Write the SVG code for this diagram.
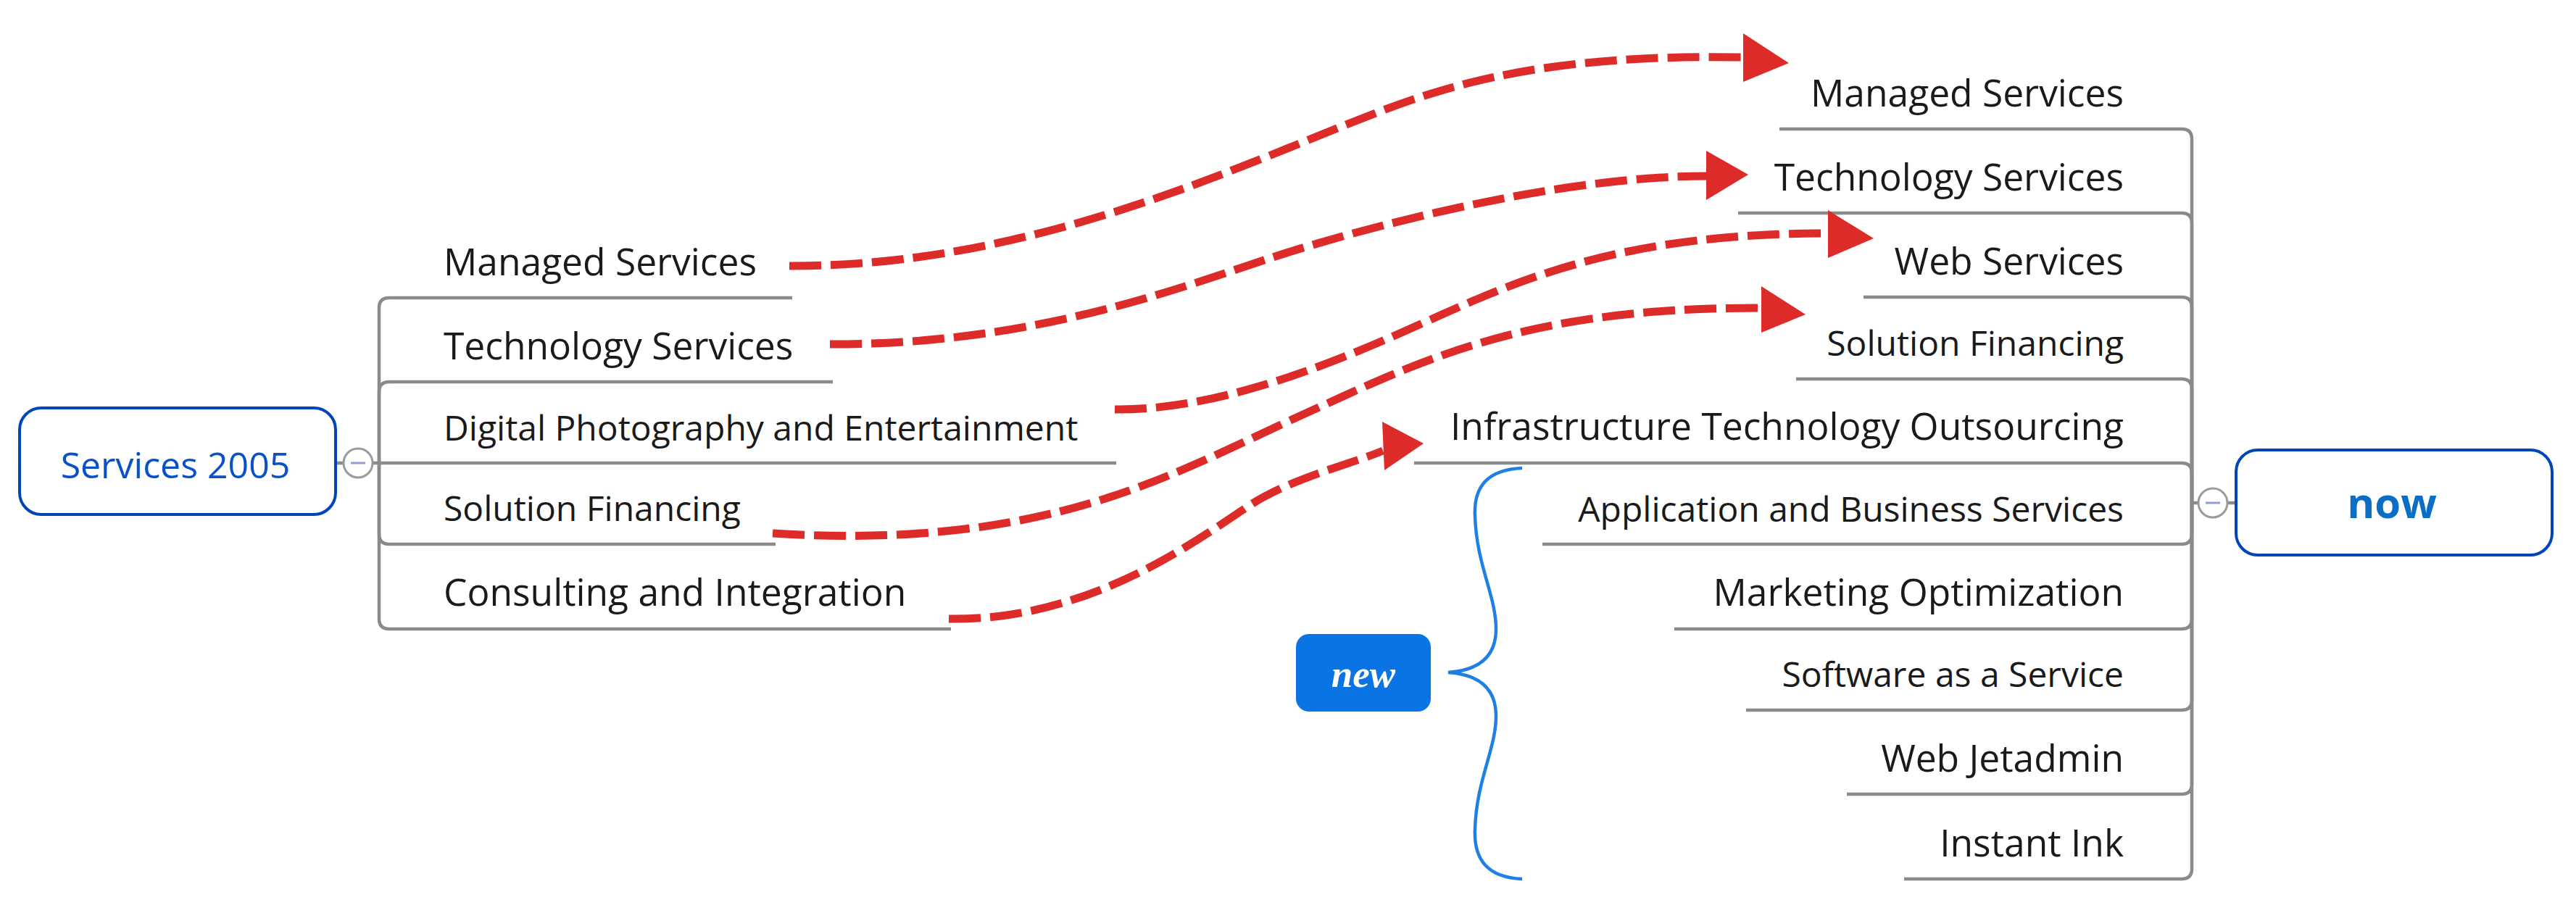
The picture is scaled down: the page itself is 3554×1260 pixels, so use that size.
<svg xmlns="http://www.w3.org/2000/svg" width="3554" height="1260" viewBox="0 0 3554 1260">
<style>
.t{font-family:"Open Sans","Liberation Sans",sans-serif;font-size:51.5px;fill:#1a1a1a}
.s{font-size:48px}
.e{text-anchor:end}
.br{fill:none;stroke:#8a8a8a;stroke-width:4.5}
.ar{fill:none;stroke:#DC2B28;stroke-width:11;stroke-dasharray:44 13}
.ah{fill:#DC2B28}
.box{fill:#ffffff;stroke:#0046B8;stroke-width:4}
.cc{fill:#ffffff;stroke:#9b9b9b;stroke-width:3}
.mn{stroke:#8f9fd6;stroke-width:3}
</style>
<rect width="3554" height="1260" fill="#ffffff"/>
<g id="branches">
<path class="br" d="M463,639 H474"/>
<path class="br" d="M523,639 V425 Q523,411 537,411 H1093"/>
<path class="br" d="M523,639 V541 Q523,527 537,527 H1149"/>
<path class="br" d="M514,639 H1540"/>
<path class="br" d="M523,639 V737 Q523,751 537,751 H1070"/>
<path class="br" d="M523,639 V854 Q523,868 537,868 H1312"/>
<path class="br" d="M3024,694 V192 Q3024,178 3010,178 H2455"/>
<path class="br" d="M3024,694 V308 Q3024,294 3010,294 H2398"/>
<path class="br" d="M3024,694 V424 Q3024,410 3010,410 H2571"/>
<path class="br" d="M3024,694 V537 Q3024,523 3010,523 H2478"/>
<path class="br" d="M3024,694 V653 Q3024,639 3010,639 H1951"/>
<path class="br" d="M3024,694 V737 Q3024,751 3010,751 H2128"/>
<path class="br" d="M3024,694 V854 Q3024,868 3010,868 H2310"/>
<path class="br" d="M3024,694 V966 Q3024,980 3010,980 H2409"/>
<path class="br" d="M3024,694 V1082 Q3024,1096 3010,1096 H2548"/>
<path class="br" d="M3024,694 V1199 Q3024,1213 3010,1213 H2627"/>
<path class="br" d="M3024,694 H3085"/>
</g>
<g id="services2005">
<rect class="box" x="27" y="563" width="436" height="147" rx="30"/>
<text x="242" y="660" text-anchor="middle" style="font-family:'Open Sans','Liberation Sans',sans-serif;font-size:50px;fill:#0A50C8">Services 2005</text>
</g>
<g id="collapse-left">
<circle class="cc" cx="494" cy="639" r="20"/>
<line class="mn" x1="484" y1="639" x2="504" y2="639"/>
</g>
<g id="now">
<rect class="box" x="3085" y="621" width="436" height="145" rx="30"/>
<text x="3300" y="715" text-anchor="middle" style="font-family:'Open Sans','Liberation Sans',sans-serif;font-size:58px;font-weight:bold;fill:#0A6FC4">now</text>
</g>
<g id="collapse-right">
<circle class="cc" cx="3053" cy="694" r="20"/>
<line class="mn" x1="3043" y1="694" x2="3063" y2="694"/>
</g>
<g id="left-topics">
<text class="t" x="612" y="380">Managed Services</text>
<text class="t" x="612" y="496">Technology Services</text>
<text class="t s" x="612" y="608">Digital Photography and Entertainment</text>
<text class="t s" x="612" y="719">Solution Financing</text>
<text class="t" x="612" y="836">Consulting and Integration</text>
</g>
<g id="right-topics">
<text class="t e" x="2930" y="147">Managed Services</text>
<text class="t e" x="2930" y="263">Technology Services</text>
<text class="t e" x="2930" y="379">Web Services</text>
<text class="t s e" x="2930" y="491">Solution Financing</text>
<text class="t e" x="2930" y="607">Infrastructure Technology Outsourcing</text>
<text class="t s e" x="2930" y="720">Application and Business Services</text>
<text class="t e" x="2930" y="836">Marketing Optimization</text>
<text class="t s e" x="2930" y="948">Software as a Service</text>
<text class="t e" x="2930" y="1065">Web Jetadmin</text>
<text class="t e" x="2930" y="1182">Instant Ink</text>
</g>
<g id="summary-new">
<path d="M2100,646 C2052,648 2033,672 2035,712 C2037,780 2064,822 2064,868 C2064,905 2042,925 1998,928 C2042,931 2064,951 2064,988 C2064,1034 2037,1076 2035,1144 C2033,1186 2052,1211 2100,1213" fill="none" stroke="#1E80E4" stroke-width="4.5"/>
<rect x="1788" y="875" width="186" height="107" rx="18" fill="#0A74E4"/>
<text x="1881" y="948" text-anchor="middle" style="font-family:'Liberation Serif',serif;font-size:53px;font-style:italic;font-weight:bold;fill:#ffffff">new</text>
</g>
<g id="connectors">
<path class="ar" d="M1089,367 C1400,368 1670,247 1850,175 C1970,127 2100,74 2405,79"/>
<polygon class="ah" points="2468,87 2405,46 2405,113"/>
<path class="ar" d="M1145,475 C1420,476 1620,400 1750,357 C1880,314 2150,243 2354,243"/>
<polygon class="ah" points="2412,241 2354,208 2354,276"/>
<path class="ar" d="M1538,565 C1700,567 1885,481 1985,436 C2110,380 2250,322 2522,322"/>
<polygon class="ah" points="2585,329 2522,290 2522,356"/>
<path class="ar" d="M1066,736 C1450,760 1620,652 1800,571 C1960,499 2100,424 2430,425"/>
<polygon class="ah" points="2491,434 2430,395 2430,459"/>
<path class="ar" d="M1309,854 C1500,857 1645,750 1720,700 C1780,660 1860,642 1908,622"/>
<polygon class="ah" points="1964,612 1907,582 1910,649"/>
</g>
</svg>
